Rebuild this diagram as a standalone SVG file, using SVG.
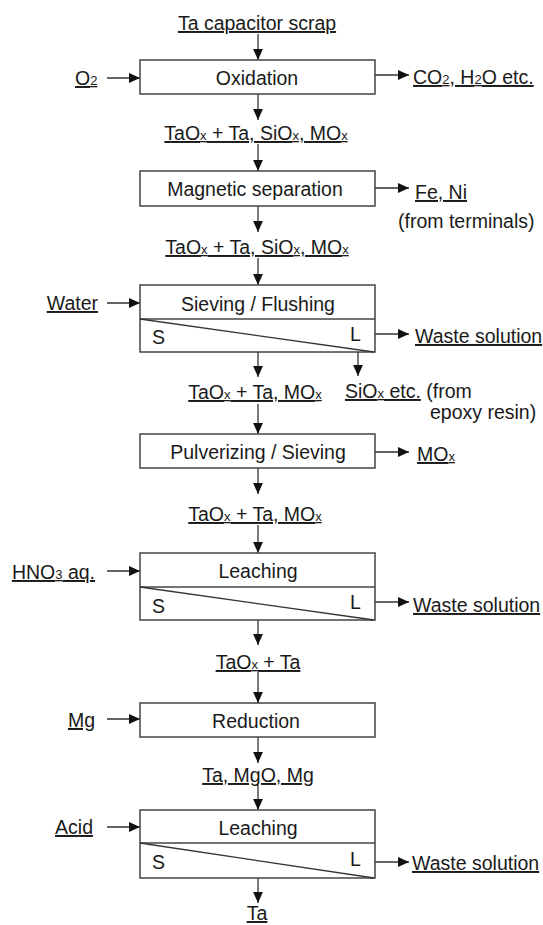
<svg xmlns="http://www.w3.org/2000/svg" width="543" height="925" viewBox="0 0 543 925">
<style>
text{font-family:"Liberation Sans",Arial,sans-serif;font-size:19.5px;fill:#1a1a1a}
.u{text-decoration:underline}
.c{text-anchor:middle}
.e{text-anchor:end}
.sub{font-size:13px}
.box{fill:#fff;stroke:#444;stroke-width:1.5}
.ln{stroke:#333;stroke-width:1.3;fill:none}
.div{stroke:#444;stroke-width:1.6}
</style>
<defs>
<marker id="ah" markerWidth="11" markerHeight="11" refX="11" refY="5.5" orient="auto" markerUnits="userSpaceOnUse">
<path d="M0,0.6 L11,5.5 L0,10.4 Z" fill="#111"/>
</marker>
</defs>
<rect width="543" height="925" fill="#fff"/>

<g id="connectors">
<line class="ln" x1="258" y1="34" x2="258" y2="60" marker-end="url(#ah)"/>
<line class="ln" x1="107" y1="78" x2="140" y2="78" marker-end="url(#ah)"/>
<line class="ln" x1="375" y1="75" x2="409" y2="75" marker-end="url(#ah)"/>
<line class="ln" x1="258" y1="94" x2="258" y2="120" marker-end="url(#ah)"/>
<line class="ln" x1="258" y1="144" x2="258" y2="171" marker-end="url(#ah)"/>
<line class="ln" x1="375" y1="188" x2="409" y2="188" marker-end="url(#ah)"/>
<line class="ln" x1="258" y1="206" x2="258" y2="232" marker-end="url(#ah)"/>
<line class="ln" x1="258" y1="258" x2="258" y2="285" marker-end="url(#ah)"/>
<line class="ln" x1="107" y1="303" x2="140" y2="303" marker-end="url(#ah)"/>
<line class="ln" x1="375" y1="334" x2="409" y2="334" marker-end="url(#ah)"/>
<line class="ln" x1="258" y1="352" x2="258" y2="377" marker-end="url(#ah)"/>
<line class="ln" x1="358" y1="352" x2="358" y2="376" marker-end="url(#ah)"/>
<line class="ln" x1="258" y1="404" x2="258" y2="434" marker-end="url(#ah)"/>
<line class="ln" x1="375" y1="452" x2="409" y2="452" marker-end="url(#ah)"/>
<line class="ln" x1="258" y1="468" x2="258" y2="494" marker-end="url(#ah)"/>
<line class="ln" x1="258" y1="525" x2="258" y2="553" marker-end="url(#ah)"/>
<line class="ln" x1="107" y1="571" x2="140" y2="571" marker-end="url(#ah)"/>
<line class="ln" x1="375" y1="602" x2="409" y2="602" marker-end="url(#ah)"/>
<line class="ln" x1="258" y1="620" x2="258" y2="645" marker-end="url(#ah)"/>
<line class="ln" x1="258" y1="672" x2="258" y2="703" marker-end="url(#ah)"/>
<line class="ln" x1="107" y1="719" x2="140" y2="719" marker-end="url(#ah)"/>
<line class="ln" x1="258" y1="737" x2="258" y2="763" marker-end="url(#ah)"/>
<line class="ln" x1="258" y1="785" x2="258" y2="810" marker-end="url(#ah)"/>
<line class="ln" x1="107" y1="827" x2="140" y2="827" marker-end="url(#ah)"/>
<line class="ln" x1="375" y1="862" x2="409" y2="862" marker-end="url(#ah)"/>
<line class="ln" x1="258" y1="878" x2="258" y2="903" marker-end="url(#ah)"/>
</g>

<g id="oxidation">
<rect class="box" x="140" y="60" width="235" height="34"/>
<text class="c" x="257" y="85">Oxidation</text>
</g>
<g id="magnetic-separation">
<rect class="box" x="140" y="171" width="235" height="35"/>
<text class="c" x="255" y="196">Magnetic separation</text>
</g>
<g id="sieving-flushing">
<rect class="box" x="140" y="285" width="235" height="67"/>
<line class="div" x1="140" y1="319" x2="375" y2="319"/>
<line class="ln" x1="140" y1="319" x2="374" y2="352"/>
<text class="c" x="258" y="311">Sieving / Flushing</text>
<text x="152" y="344">S</text>
<text x="350" y="341">L</text>
</g>
<g id="pulverizing-sieving">
<rect class="box" x="140" y="434" width="235" height="34"/>
<text class="c" x="258" y="459">Pulverizing / Sieving</text>
</g>
<g id="leaching-1">
<rect class="box" x="140" y="553" width="235" height="67"/>
<line class="div" x1="140" y1="587" x2="375" y2="587"/>
<line class="ln" x1="140" y1="587" x2="374" y2="620"/>
<text class="c" x="258" y="578">Leaching</text>
<text x="152" y="613">S</text>
<text x="350" y="609">L</text>
</g>
<g id="reduction">
<rect class="box" x="140" y="703" width="235" height="34"/>
<text class="c" x="256" y="728">Reduction</text>
</g>
<g id="leaching-2">
<rect class="box" x="140" y="810" width="235" height="68"/>
<line class="div" x1="140" y1="843" x2="375" y2="843"/>
<line class="ln" x1="140" y1="843" x2="374" y2="878"/>
<text class="c" x="258" y="835">Leaching</text>
<text x="152" y="869">S</text>
<text x="350" y="866">L</text>
</g>

<g id="labels">
<text class="c u" x="257" y="30">Ta capacitor scrap</text>
<text class="u" x="75" y="85">O<tspan class="sub">2</tspan></text>
<text class="u" x="413" y="84">CO<tspan class="sub">2</tspan>, H<tspan class="sub">2</tspan>O etc.</text>
<text class="c u" x="256" y="140">TaO<tspan class="sub">x</tspan> + Ta, SiO<tspan class="sub">x</tspan>, MO<tspan class="sub">x</tspan></text>
<text class="u" x="415" y="199">Fe, Ni</text>
<text x="398" y="228">(from terminals)</text>
<text class="c u" x="257" y="254">TaO<tspan class="sub">x</tspan> + Ta, SiO<tspan class="sub">x</tspan>, MO<tspan class="sub">x</tspan></text>
<text class="e u" x="98" y="310">Water</text>
<text class="u" x="415" y="343">Waste solution</text>
<text class="c u" x="255" y="399">TaO<tspan class="sub">x</tspan> + Ta, MO<tspan class="sub">x</tspan></text>
<text x="345" y="398"><tspan class="u">SiO<tspan class="sub">x</tspan> etc.</tspan> (from</text>
<text x="430" y="419">epoxy resin)</text>
<text class="u" x="417" y="461">MO<tspan class="sub">x</tspan></text>
<text class="c u" x="255" y="521">TaO<tspan class="sub">x</tspan> + Ta, MO<tspan class="sub">x</tspan></text>
<text class="e u" x="95" y="579">HNO<tspan class="sub">3</tspan> aq.</text>
<text class="u" x="413" y="612">Waste solution</text>
<text class="c u" x="258" y="669">TaO<tspan class="sub">x</tspan> + Ta</text>
<text class="e u" x="95" y="727">Mg</text>
<text class="c u" x="258" y="782">Ta, MgO, Mg</text>
<text class="e u" x="93" y="834">Acid</text>
<text class="u" x="412" y="870">Waste solution</text>
<text class="c u" x="257" y="920">Ta</text>
</g>
</svg>
